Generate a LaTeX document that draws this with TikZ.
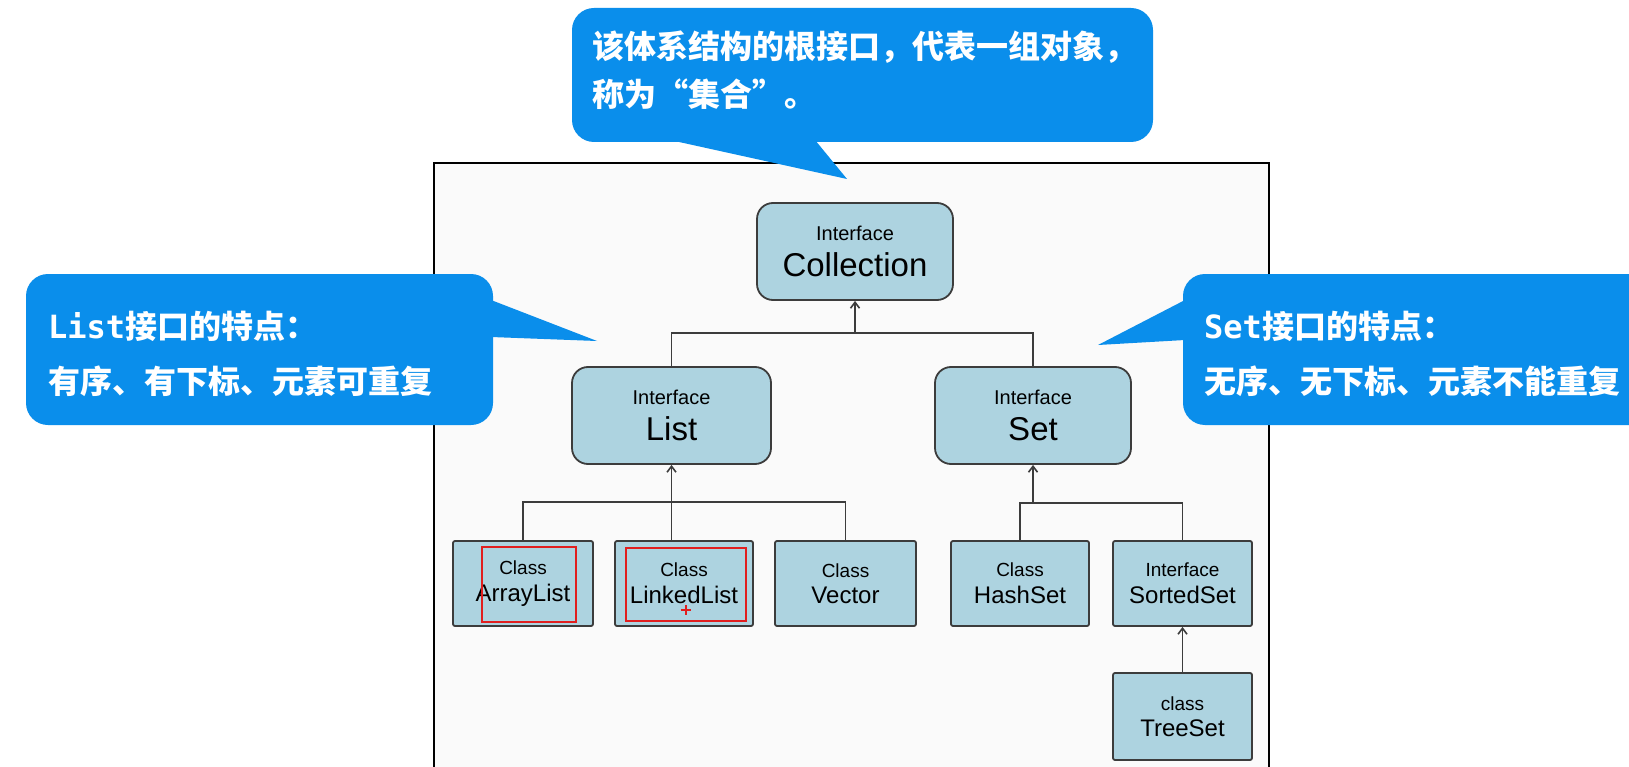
\documentclass[tikz,border=0pt]{standalone}
\usepackage{fontspec}
\setmainfont{Liberation Sans}
\newfontfamily\cjk{Noto Sans CJK SC}
\newfontfamily\mono{DejaVu Sans Mono}
\usetikzlibrary{arrows.meta}
\definecolor{callblue}{RGB}{10,142,235}
\definecolor{boxfill}{RGB}{173,211,224}
\definecolor{boxline}{RGB}{60,60,60}
\definecolor{framefill}{RGB}{250,250,250}
\definecolor{markred}{RGB}{225,30,30}
\newcommand{\fsz}[1]{\fontsize{#1}{#1}\selectfont}
\tikzset{
  ibox/.style={draw=boxline, line width=1.8pt, fill=boxfill, rounded corners=16pt,
    minimum width=196pt, minimum height=97pt, align=center, inner sep=0pt},
  cbox/.style={draw=boxline, line width=1.8pt, fill=boxfill, rounded corners=2pt,
    minimum width=139pt, minimum height=85pt, align=center, inner sep=0pt},
  conn/.style={draw=boxline, line width=1.7pt},
  uparr/.style={conn, -{Straight Barb[length=6pt,width=9pt,line width=1.6pt]}},
  calltext/.style={text=white, anchor=west, inner sep=0pt},
  redmark/.style={draw=markred, line width=1.6pt}
}
\begin{document}
\begin{tikzpicture}[x=1pt,y=-1pt]
\useasboundingbox (0,0) rectangle (1629,767);
\clip (0,0) rectangle (1629,767);
\fill[white] (0,0) rectangle (1629,767);
% frame
\draw[fill=framefill, line width=2pt] (434,163) rectangle (1269,800);

% boxes
\node[ibox] (coll) at (855,251.5) {\fsz{20}Interface\\[11pt]\fsz{33}Collection};
\node[ibox, minimum width=199pt] (list) at (671.5,415.5) {\fsz{20}Interface\\[11pt]\fsz{33}List};
\node[ibox] (set) at (1033,415.5) {\fsz{20}Interface\\[11pt]\fsz{33}Set};

\node[cbox, minimum width=140pt] (al) at (523,583.5) {\fsz{19}Class\\[8pt]\fsz{24}ArrayList};
\node[cbox, minimum width=138pt] (ll) at (684,583.5) {\fsz{19}Class\\[8pt]\fsz{24}LinkedList};
\node[cbox, minimum width=141pt] (vec) at (845.5,583.5) {\fsz{19}Class\\[8pt]\fsz{24}Vector};
\node[cbox, minimum width=138pt] (hs) at (1020,583.5) {\fsz{19}Class\\[8pt]\fsz{24}HashSet};
\node[cbox, minimum width=139pt] (ss) at (1182.5,583.5) {\fsz{19}Interface\\[8pt]\fsz{24}SortedSet};
\node[cbox, minimum width=139pt, minimum height=87pt] (ts) at (1182.5,716.5) {\fsz{19}class\\[8pt]\fsz{24}TreeSet};

% junctions
\coordinate (j1) at (855,333);
\coordinate (j2) at (671.5,502);
\coordinate (j3) at (1033,503);

\draw[conn] (list.north) -- (list.north |- j1) -- (set.north |- j1) -- (set.north);
\draw[uparr] (j1) -- (coll.south);

\draw[conn] (al.north) -- (al.north |- j2) -- (vec.north |- j2) -- (vec.north);
\draw[conn] (j2) -- (j2 |- ll.north);
\draw[uparr] (j2) -- (list.south);

\draw[conn] (hs.north) |- (j3) -| (ss.north);
\draw[uparr] (j3) -- (set.south);

\draw[uparr] (ts.north) -- (ss.south);

% red marks
\draw[redmark] (482,547) rectangle (576,622);
\draw[redmark] (626,548) rectangle (746,621);
\draw[markred, line width=1.4pt] (681,610) -- (691,610) (686,605) -- (686,615);

% callouts
\fill[callblue, rounded corners=22pt] (572,8) rectangle (1153,142);
\fill[callblue] (670,140) -- (815,140) -- (847,179) -- cycle;
\node[calltext] (t1) at (592,47) {\cjk\bfseries\fsz{32}该体系结构的根接口，代表一组对象，};
\node[calltext] (t2) at (592,94) {\cjk\bfseries\fsz{32}称为“集合”。};

\fill[callblue, rounded corners=22pt] (26,274) rectangle (493,425);
\fill[callblue] (491,300) -- (597,341) -- (491,337) -- cycle;
\node[calltext] (l1) at (48,326) {\bfseries\fsz{32}{\mono List}{\cjk 接口的特点：}};
\node[calltext] (l2) at (48,381) {\cjk\bfseries\fsz{32}有序、有下标、元素可重复};

\fill[callblue, rounded corners=22pt] (1183,274) rectangle (1680,425);
\fill[callblue] (1185,300) -- (1098,345) -- (1185,340) -- cycle;
\node[calltext] (r1) at (1204,326) {\bfseries\fsz{32}{\mono Set}{\cjk 接口的特点：}};
\node[calltext] (r2) at (1204,381) {\cjk\bfseries\fsz{32}无序、无下标、元素不能重复};
\end{tikzpicture}
\end{document}
